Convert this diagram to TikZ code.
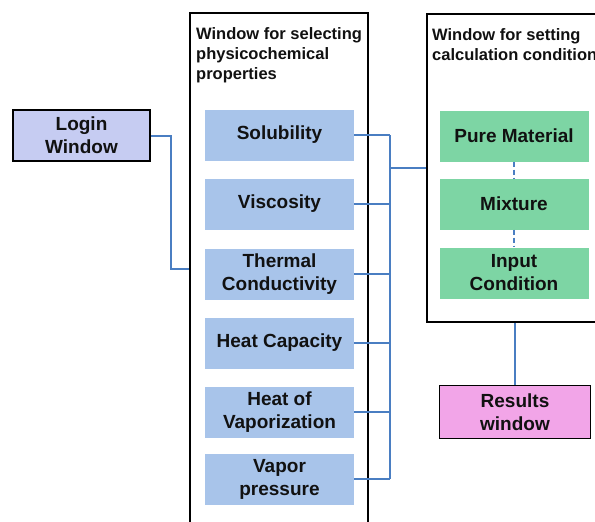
\documentclass[tikz,border=0pt]{standalone}
\usepackage{fontspec}
\setmainfont{Liberation Sans}
\usetikzlibrary{calc}
\definecolor{propblue}{HTML}{A8C4EA}
\definecolor{condgreen}{HTML}{7DD5A4}
\definecolor{respink}{HTML}{F2A5E8}
\definecolor{loginlav}{HTML}{C6CCF2}
\definecolor{linkblue}{HTML}{4A7EC2}
\definecolor{txt}{HTML}{111111}
\tikzset{
  boxtext/.style={font=\fontsize{19}{23}\selectfont\bfseries, text=txt, align=center, inner sep=0pt},
  propbox/.style={boxtext, fill=propblue, minimum width=149pt, minimum height=51pt},
  condbox/.style={boxtext, fill=condgreen, minimum width=149pt, minimum height=51pt},
  winframe/.style={draw=black, line width=1.8pt, inner sep=0pt},
  titletext/.style={font=\fontsize{16.5}{20}\selectfont\bfseries, text=txt, align=left, inner sep=0pt, anchor=north west},
  link/.style={draw=linkblue, line width=2pt},
  dlink/.style={draw=linkblue, line width=1.8pt, dash pattern=on 5pt off 3pt}
}
\begin{document}
\begin{tikzpicture}[x=1pt,y=-1pt]
\useasboundingbox (0,0) rectangle (595,522);
\fill[white] (0,0) rectangle (595,522);

% windows
\node[winframe, minimum width=178pt, minimum height=520pt] (win1) at (279,273) {};
\node[titletext] (t1) at (196,27) {Window for selecting\\physicochemical\\properties};
\node[winframe, minimum width=175pt, minimum height=308pt] (win2) at (514.5,168) {};
\node[titletext] (t2) at (432,28) {Window for setting\\calculation conditions};

% login
\node[boxtext, draw=black, line width=1.5pt, fill=loginlav, minimum width=137pt, minimum height=51pt] (login) at (81.5,135.5) {Login\\Window};

% property boxes
\node[propbox] (sol) at (279.5,135) {Solubility};
\node[propbox] (vis) at (279.5,204) {Viscosity};
\node[propbox] (thc) at (279.5,274) {Thermal\\Conductivity};
\node[propbox] (hcap) at (279.5,343) {Heat Capacity};
\node[propbox] (hvap) at (279.5,412) {Heat of\\Vaporization};
\node[propbox] (vap) at (279.5,479) {Vapor\\pressure};

% condition boxes
\node[condbox] (pure) at (514,136) {Pure Material};
\node[condbox] (mix) at (514,204) {Mixture};
\node[condbox] (inp) at (514,273) {Input\\Condition};

% results
\node[boxtext, draw=black, line width=1.5pt, fill=respink, minimum width=151pt, minimum height=53pt] (res) at (515,412) {Results\\window};

% connectors
\coordinate (j1) at (171,269);
\coordinate (bus) at (390,0);
\draw[link] (login.east) -| (j1) -- (j1 -| win1.west);
\foreach \b in {sol,vis,thc,hcap,hvap,vap}{
  \draw[link] (\b.east) -- (\b.east -| bus);
}
\draw[link] (sol.east -| bus) -- (vap.east -| bus);
\draw[link] (bus |- win2.west) -- (win2.west);
\draw[dlink] (pure.south) -- (mix.north);
\draw[dlink] (mix.south) -- (inp.north);
\draw[link] (res.north |- win2.south) -- (res.north);
\end{tikzpicture}
\end{document}
